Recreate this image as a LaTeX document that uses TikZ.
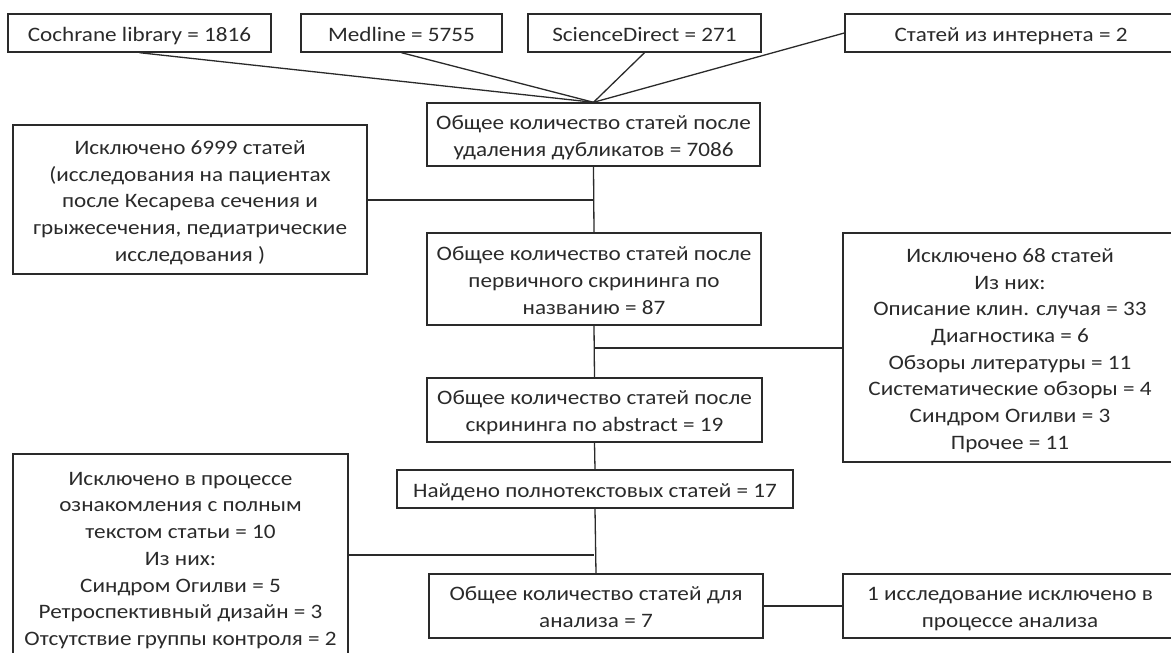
\documentclass[tikz,border=0pt]{standalone}
\usepackage{fontspec}
\setmainfont{Carlito}[FakeStretch=1.13]
\definecolor{ink}{HTML}{2A2A2A}
% centred lines on a fixed baseline grid, set slightly low in the frame
\newcommand{\boxlines}[1]{\raisebox{-3pt}[\height][\depth]{\begin{tabular}{@{}c@{}}#1\end{tabular}}}
\begin{document}
\begin{tikzpicture}[x=1pt,y=-1pt,
  box/.style={draw=ink, line width=1.4pt, text=ink, inner sep=0pt,
    font=\fontsize{20.5}{26.7}\selectfont},
  link/.style={draw=ink, line width=1.3pt}]
\useasboundingbox (0,0) rectangle (1171,653);

% sources
\node[box, minimum width=263, minimum height=38] (cochrane) at (139.5,33) {\boxlines{Cochrane library = 1816}};
\node[box, minimum width=201, minimum height=38] (medline) at (401.5,33) {\boxlines{Medline = 5755}};
\node[box, minimum width=233, minimum height=38] (sdirect) at (644.5,33) {\boxlines{ScienceDirect = 271}};
\node[box, minimum width=332, minimum height=38] (internet) at (1011,33) {\boxlines{Статей из интернета = 2}};

% main flow
\node[box, minimum width=333, minimum height=63] (dedup) at (593.5,134.5)
  {\boxlines{Общее количество статей после\\удаления дубликатов = 7086}};
\node[box, minimum width=334, minimum height=92] (title) at (594,279)
  {\boxlines{Общее количество статей после\\первичного скрининга по\\названию = 87}};
\node[box, minimum width=335, minimum height=64] (abstract) at (594.5,410)
  {\boxlines{Общее количество статей после\\скрининга по abstract = 19}};
\node[box, minimum width=396, minimum height=38] (fulltext) at (595,489)
  {\boxlines{Найдено полнотекстовых статей = 17}};
\node[box, minimum width=334, minimum height=64] (final) at (596,606)
  {\boxlines{Общее количество статей для\\анализа = 7}};

% exclusions
\node[box, minimum width=354, minimum height=149] (excl1) at (190,199.5)
  {\boxlines{Исключено 6999 статей\\(исследования на пациентах\\после Кесарева сечения и\\грыжесечения, педиатрические\\исследования )}};
\node[box, minimum width=334, minimum height=229] (excl2) at (1010,347.5)
  {\boxlines{Исключено 68 статей\\Из них:\\Описание клин. случая = 33\\Диагностика = 6\\Обзоры литературы = 11\\Систематические обзоры = 4\\Синдром Огилви = 3\\Прочее = 11}};
\node[box, minimum width=335, minimum height=206] (excl3) at (180.5,557)
  {\boxlines{Исключено в процессе\\ознакомления с полным\\текстом статьи = 10\\Из них:\\Синдром Огилви = 5\\Ретроспективный дизайн = 3\\Отсутствие группы контроля = 2}};
\node[box, minimum width=334, minimum height=64] (excl4) at (1010,606)
  {\boxlines{1 исследование исключено в\\процессе анализа}};

% sources merge into the first count
\draw[link] (cochrane.south) -- (dedup.north);
\draw[link] (medline.south) -- (dedup.north);
\draw[link] (sdirect.south) -- (dedup.north);
\draw[link] (internet.west) -- (dedup.north);

% vertical trunk
\draw[link] (dedup.south) -- (title.north);
\draw[link] (title.south) -- (abstract.north);
\draw[link] (abstract.south) -- (fulltext.north);
\draw[link] (fulltext.south) -- (final.north);

% side branches
\coordinate (j1) at (594,200);
\coordinate (j2) at (594,348);
\coordinate (j3) at (594,555);
\draw[link] (excl1.east |- j1) -- (j1);
\draw[link] (j2) -- (excl2.west |- j2);
\draw[link] (excl3.east |- j3) -- (j3);
\draw[link] (final.east) -- (excl4.west);
\end{tikzpicture}
\end{document}
